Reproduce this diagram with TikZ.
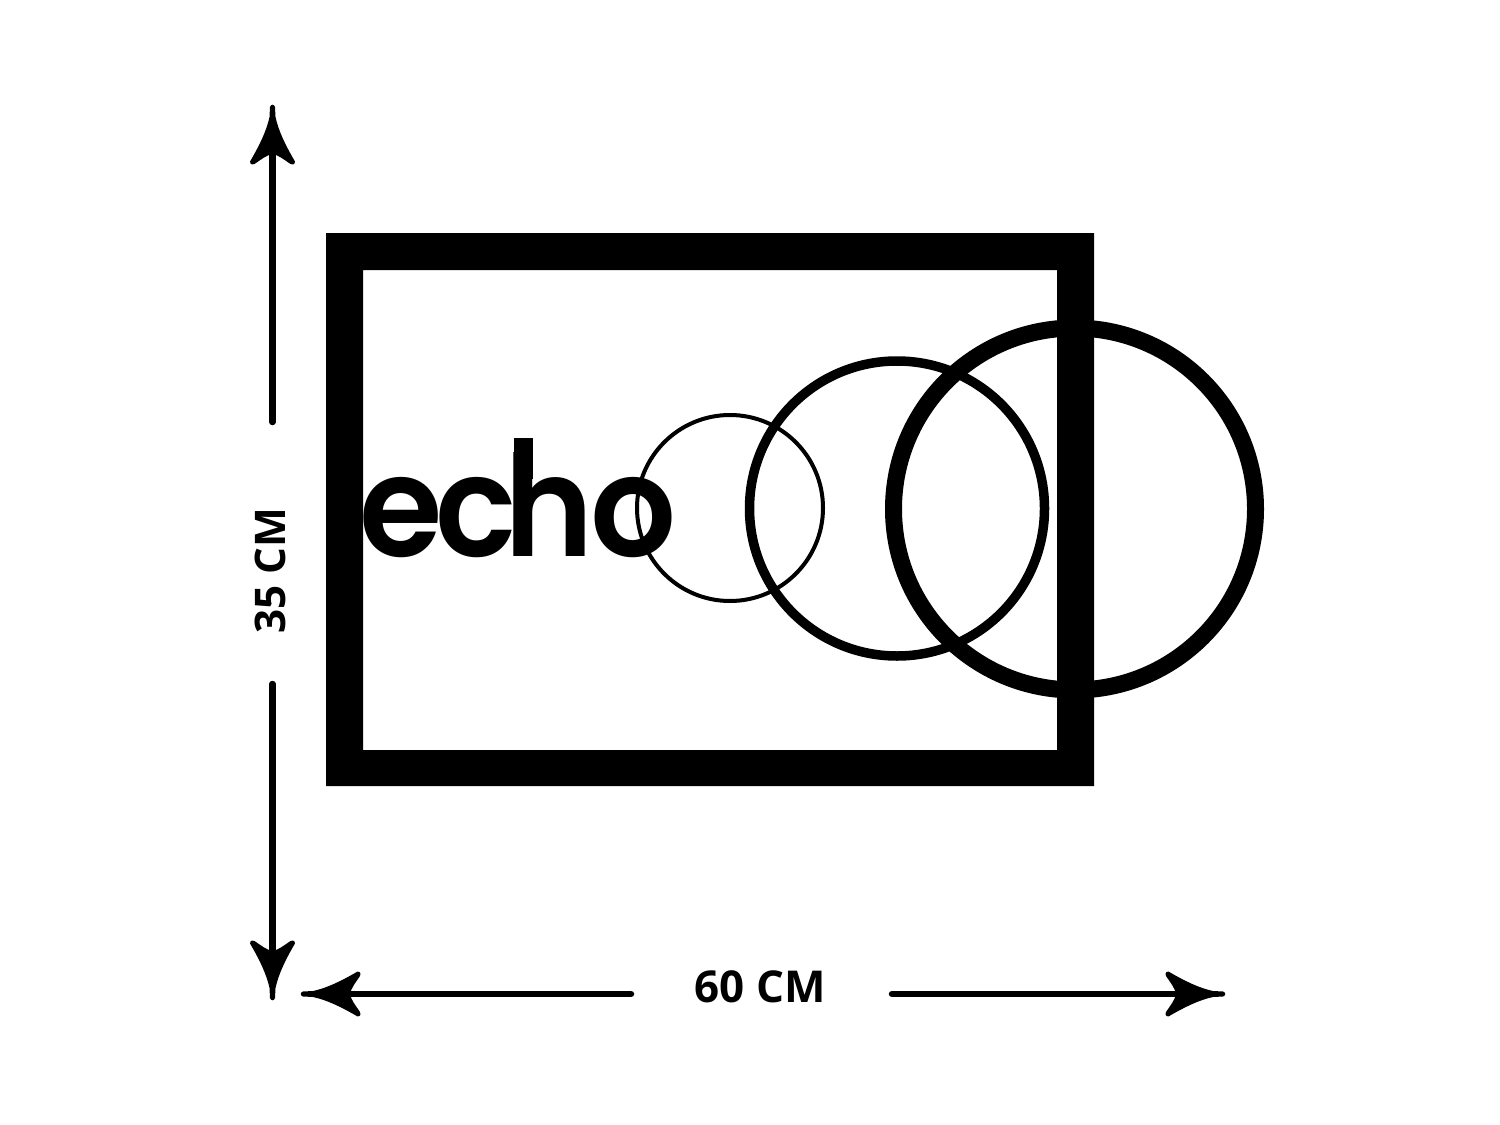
\documentclass[tikz,border=0pt]{standalone}
\usepackage{fontspec}
\setmainfont{Open Sans}
\newfontfamily\echofont{Poppins SemiBold}
\tikzset{
  px/.style={x=0.02cm,y=-0.02cm},
  shaft/.style={line width=6.5*0.02cm,line cap=round,black},
  ring/.style={draw=black,fill=none},
  dimlabel/.style={font=\fontsize{25}{28}\selectfont\bfseries,text=black,inner sep=0pt},
  pics/dimhead/.style={code={
    \fill[black,line join=round] (-2.5,0) -- (-3,10) .. controls (-6,24) and (-13,38) .. (-21,52)
      .. controls (-24,55) and (-22,59) .. (-18,57)
      .. controls (-12,53) and (-6,48) .. (0,47)
      .. controls (6,48) and (12,53) .. (18,57)
      .. controls (22,59) and (24,55) .. (21,52)
      .. controls (13,38) and (6,24) .. (3,10) -- (2.5,0)
      .. controls (1.5,-3) and (-1.5,-3) .. (-2.5,0) -- cycle;
  }}
}
\begin{document}
\begin{tikzpicture}[px]
\useasboundingbox (0,0) rectangle (1500,1125);
% frame
\fill[black,even odd rule] (326,233) rectangle (1094,786) (363,270) rectangle (1057,750);
% rings
\draw[ring,line width=4*0.02cm] (730,508) circle (93);
\draw[ring,line width=9.5*0.02cm] (897,508.5) circle (147.5);
\draw[ring,line width=17*0.02cm] (1074.5,509) circle (181);
% word
\node[anchor=base west,inner sep=0pt,font=\echofont\fontsize{80}{90}\selectfont] (word) at (359,556) {\scalebox{.96}[1]{e\kern-0.05em c\kern-0.09em \makebox[0pt][l]{\kern0.068em\rule[0.55em]{0.138em}{0.287em}}h\kern-0.025em o}};
% labels
\node[dimlabel] (w) at (760,987) {60 CM};
\node[dimlabel,rotate=90,font=\fontsize{24}{27}\selectfont\bfseries] (h) at (270,571) {35 CM};
% dimension arrows
\coordinate (upA) at (272.5,422); \coordinate (upB) at (272.5,150);
\coordinate (dnA) at (272.5,684); \coordinate (dnB) at (272.5,955);
\coordinate (ltA) at (631,994); \coordinate (ltB) at (350,994);
\coordinate (rtA) at (892,994); \coordinate (rtB) at (1175,994);
\draw[shaft] (upA) -- (upB);
\draw[shaft] (dnA) -- (dnB);
\draw[shaft] (ltA) -- (ltB);
\draw[shaft] (rtA) -- (rtB);
\pic at (272.5,107) {dimhead};
\pic[rotate=180] at (272.5,998) {dimhead};
\pic[rotate=90] at (303,994) {dimhead};
\pic[rotate=-90] at (1223,994) {dimhead};
\end{tikzpicture}
\end{document}
